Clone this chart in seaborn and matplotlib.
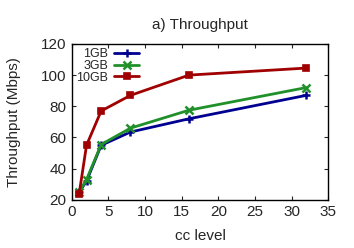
import pandas as pd
import seaborn as sns
import matplotlib.pyplot as plt

cc_level = [1, 2, 4, 8, 16, 32]
tp_1gb = [25, 32, 55, 63.5, 72, 87]
tp_3gb = [25, 33, 55.5, 66, 77.5, 92]
tp_10gb = [24, 55, 77, 87, 100, 104.5]
series_names = ["1GB", "3GB", "10GB"]

df = pd.DataFrame({
    "cc": cc_level * 3,
    "tp": tp_1gb + tp_3gb + tp_10gb,
    "size": [n for n in series_names for _ in cc_level],
})

sns.set_style("ticks")
plt.rcParams['font.family'] = ['Liberation Sans', 'DejaVu Sans']
fs = 11

fig, ax = plt.subplots(figsize=(3.54, 2.48), dpi=100)
fig.subplots_adjust(left=0.203, right=0.927, top=0.823, bottom=0.194)

palette = {"1GB": "#000090", "3GB": "#20902a", "10GB": "#a00000"}
marker_shape = {"1GB": "+", "3GB": "x", "10GB": "s"}

sns.lineplot(data=df, x="cc", y="tp", hue="size", hue_order=series_names,
             palette=palette, linewidth=2, legend=False, ax=ax)

# gnuplot style point types
for ln, name in zip(ax.lines, series_names):
    ln.set_label(name)
    ln.set_marker(marker_shape[name])
    ln.set_markerfacecolor(ln.get_color())
    ln.set_markeredgecolor(ln.get_color())
    if name == "10GB":
        ln.set_markersize(4)
        ln.set_markeredgewidth(1.2)
    else:
        ln.set_markersize(6)
        ln.set_markeredgewidth(1.8)

ax.set_xlim(0, 35)
ax.set_ylim(20, 120)
ax.set_xticks(range(0, 36, 5))
ax.set_yticks(range(20, 121, 20))
ax.tick_params(direction="in", top=True, right=True, labelsize=fs,
               length=3, width=0.8, pad=4)
for s in ax.spines.values():
    s.set_linewidth(1)
    s.set_color("black")
ax.set_xlabel("cc level", fontsize=fs, labelpad=7)
ax.set_ylabel("Throughput (Mbps)", fontsize=fs, labelpad=14)
ax.set_title("a) Throughput", fontsize=fs, pad=11)

leg = ax.legend(loc="upper left", frameon=False, fontsize=9,
                markerfirst=False, handlelength=2.0, handletextpad=0.5,
                labelspacing=-0.02, borderaxespad=0.1, borderpad=0.25,
                bbox_to_anchor=(0.0, 1.0))
for t in leg.get_texts():
    t.set_ha("right")
leg._legend_box.align = "right"

fig.savefig("out.png", dpi=100)
